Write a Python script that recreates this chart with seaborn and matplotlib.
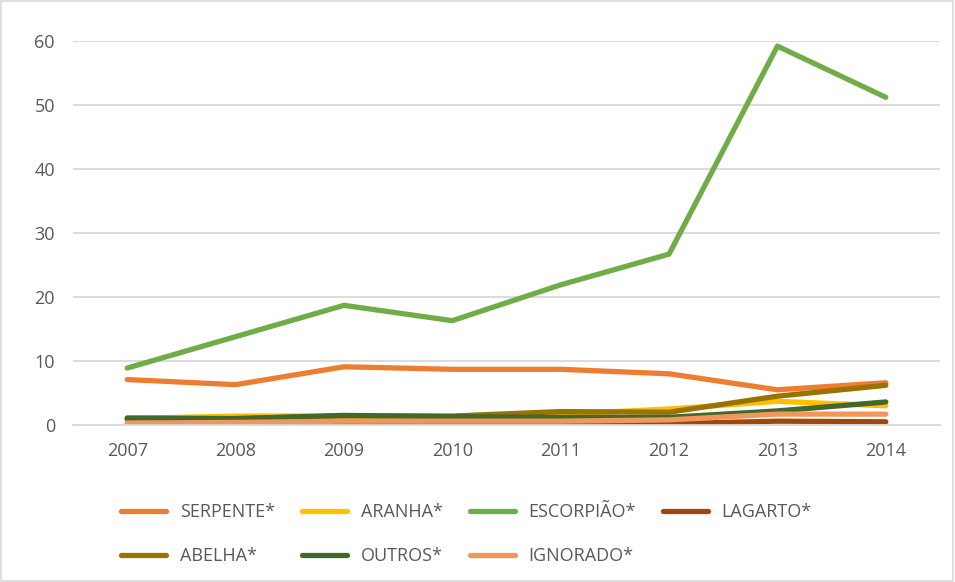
import matplotlib
matplotlib.use("Agg")
import matplotlib.pyplot as plt
import seaborn as sns
import pandas as pd
from matplotlib.patches import Rectangle

years = ["2007", "2008", "2009", "2010", "2011", "2012", "2013", "2014"]

serpente = [7.1, 6.3, 9.1, 8.7, 8.7, 8.0, 5.5, 6.6]
aranha = [1.0, 1.4, 1.4, 1.3, 1.7, 2.5, 3.7, 3.0]
escorpiao = [8.9, 13.8, 18.7, 16.3, 21.9, 26.7, 59.2, 51.2]
lagarto = [0.0, 0.1, 0.1, 0.2, 0.2, 0.2, 0.6, 0.5]
abelha = [0.9, 1.0, 1.4, 1.4, 2.1, 2.0, 4.5, 6.2]
outros = [1.1, 1.0, 1.5, 1.3, 1.2, 1.2, 2.2, 3.6]
ignorado = [0.3, 0.4, 0.6, 0.6, 0.6, 0.8, 1.7, 1.7]

series = {
    "SERPENTE*": serpente,
    "ARANHA*": aranha,
    "ESCORPIÃO*": escorpiao,
    "LAGARTO*": lagarto,
    "ABELHA*": abelha,
    "OUTROS*": outros,
    "IGNORADO*": ignorado,
}
colors = {
    "SERPENTE*": "#ED7D31",
    "ARANHA*": "#FFC000",
    "ESCORPIÃO*": "#70AD47",
    "LAGARTO*": "#9E480E",
    "ABELHA*": "#997300",
    "OUTROS*": "#43682B",
    "IGNORADO*": "#F1975A",
}

rows = []
for name, vals in series.items():
    for i, (yr, v) in enumerate(zip(years, vals)):
        rows.append({"pos": i, "ano": yr, "valor": v, "tipo": name})
df = pd.DataFrame(rows)

sns.set_theme(style="white")
plt.rcParams["font.family"] = ["Open Sans", "DejaVu Sans"]

fig = plt.figure(figsize=(9.55, 5.82), dpi=100)
ax = fig.add_axes([73 / 955, 1 - 425 / 582, (940 - 73) / 955, (425 - 41) / 582])

sns.lineplot(data=df, x="pos", y="valor", hue="tipo", palette=colors,
             hue_order=list(series.keys()), linewidth=3.8, ax=ax,
             legend=False, sort=False)

ax.set_xlim(-0.5, len(years) - 0.5)
ax.set_ylim(0, 60)
ax.set_yticks(range(0, 61, 10))
ax.set_xticks(range(len(years)))
ax.set_xticklabels(years)
ax.set_xlabel("")
ax.set_ylabel("")
ax.yaxis.grid(True, color="#D9D9D9", linewidth=1.3)
ax.set_axisbelow(True)
for s in ["left", "right", "top"]:
    ax.spines[s].set_visible(False)
ax.spines["bottom"].set_color("#D9D9D9")
ax.spines["bottom"].set_linewidth(1.3)
ax.tick_params(axis="both", length=0, labelsize=13, labelcolor="#595959")
ax.tick_params(axis="y", pad=13)
ax.tick_params(axis="x", pad=12)

# legend: two rows, filled row by row
order = ["SERPENTE*", "ABELHA*", "ARANHA*", "OUTROS*",
         "ESCORPIÃO*", "IGNORADO*", "LAGARTO*"]
handles = [plt.Line2D([], [], color=colors[n], linewidth=3.8,
                      solid_capstyle="round") for n in order]
leg = fig.legend(handles, order, loc="upper left", ncol=4,
                 bbox_to_anchor=(105 / 955, 1 - 487 / 582),
                 frameon=False, fontsize=13, handlelength=2.5,
                 handletextpad=0.75, columnspacing=1.5, labelspacing=1.45)
for t in leg.get_texts():
    t.set_color("#595959")

fig.patches.append(Rectangle((0.001, 0.002), 0.997, 0.996, transform=fig.transFigure,
                             fill=False, edgecolor="#D9D9D9", linewidth=1.2))

fig.savefig("out.png", dpi=100)
